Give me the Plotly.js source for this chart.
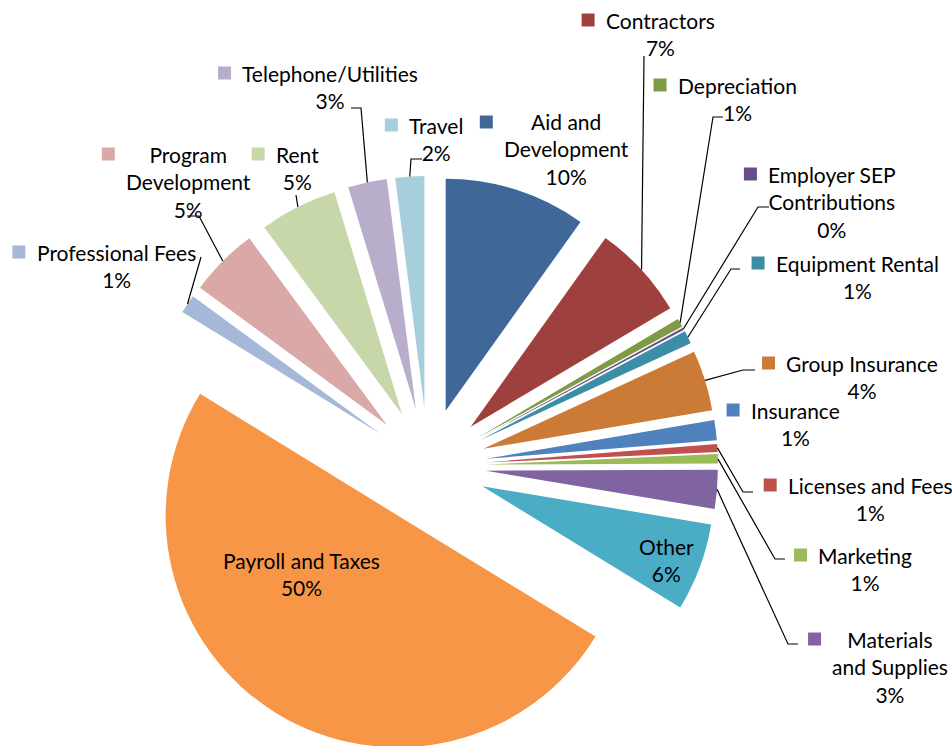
<!DOCTYPE html>
<html><head><meta charset="utf-8">
<script src="https://cdn.plot.ly/plotly-3.0.1.min.js"></script>
<style>html,body{margin:0;padding:0;overflow:hidden;background:#fff}#chart{width:952px;height:760px}</style>
</head><body><div id="chart"></div>
<script>
// ---- data ----
const categories = ["Aid and Development","Contractors","Depreciation","Employer SEP Contributions","Equipment Rental","Group Insurance","Insurance","Licenses and Fees","Marketing","Materials and Supplies","Other","Payroll and Taxes","Professional Fees","Program Development","Rent","Telephone/Utilities","Travel"];
const values = [9.86, 6.6, 0.6, 0.15, 0.9, 4.2, 1.4, 0.55, 0.65, 2.7, 6.1, 50.0, 1.3, 4.8, 5.4, 2.7, 2.0];
const displayLabels = ["Aid and<br>Development","Contractors","Depreciation","Employer SEP<br>Contributions","Equipment Rental","Group Insurance","Insurance","Licenses and Fees","Marketing","Materials<br>and Supplies","Other","Payroll and Taxes","Professional Fees","Program<br>Development","Rent","Telephone/Utilities","Travel"];
const insideLabels = ["Other","Payroll and Taxes"];

// ---- styles ----
const colors = ["#3F6899","#9E403D","#7F9B45","#664E86","#3A8FA6","#CC7B37","#4F81BD","#C0504D","#9BBB59","#8064A2","#4BACC6","#F79646","#A6B8D8","#D9A8A7","#C7D7AA","#B8AECC","#A6CEDC"];
const W = 952, H = 760;
const PULL = 0.25;
const pieCenterPx = [428, 466], pieBoxPx = 580;
const FONT = 21, LINE = 27.5;
const fontFamily = "Lato, 'Liberation Sans', sans-serif";
// label positions (px): center x of text, center y of first line
const labelAnchorPx = [[566,122],[660,20],[737,85],[832,174],[857,263],[862,363],[795,410],[870,485],[865,555],[890,639],[666,546],[301,560],[116,252],[188,154],[297,154],[330,73],[436,125]];
// leader lines (px): elbow point, optional tail point
const leaderPx = [null,[[644,56]],[[713,117],[723,117]],[[758,207],[769,207]],[[731,269],[740,269]],[[743,370],[755,370]],null,[[743,492],[753,492]],[[775,559],[785,559]],[[788,644],[798,644]],null,null,[[201,257]],[[199,216],[187,216]],[[296,195]],[[361,108],[351,108]],[[411,159],[422,159]]];

const X = x => x / W, Y = y => 1 - y / H;
const total = values.reduce((a,b)=>a+b,0);
const r = pieBoxPx / (2 * (1 + PULL));
const [cx, cy] = pieCenterPx;

const trace = {
  type: 'pie', labels: categories, values: values, sort: false, direction: 'clockwise', rotation: 0,
  pull: values.map(()=>PULL), marker: {colors: colors, line: {width: 0}},
  textinfo: 'none', hoverinfo: 'label+percent', showlegend: false,
  domain: {x: [X(cx - pieBoxPx/2), X(cx + pieBoxPx/2)], y: [Y(cy + pieBoxPx/2), Y(cy - pieBoxPx/2)]}
};

const canvas = document.createElement('canvas');
const ctx = canvas.getContext('2d');
ctx.font = FONT + "px Lato";

const annotations = [], shapes = [];
let cum = 0;
categories.forEach((cat, i) => {
  const v = values[i];
  const mid = (cum + v/2) / total * 2 * Math.PI;
  cum += v;
  const pct = Math.round(v / total * 100) + '%';
  const lines = displayLabels[i].split('<br>');
  const n = lines.length + 1;
  const [ax, ay] = labelAnchorPx[i];
  annotations.push({
    xref: 'paper', yref: 'paper', x: X(ax), y: Y(ay + (n-1)*LINE/2),
    xanchor: 'center', yanchor: 'middle', showarrow: false, align: 'center',
    text: displayLabels[i] + '<br>' + pct,
    font: {family: fontFamily, size: FONT, color: '#000'}
  });
  if (!insideLabels.includes(cat)) {
    const wmax = Math.max(...lines.map(l => ctx.measureText(l).width), ctx.measureText(pct).width);
    const left = ax - wmax/2;
    shapes.push({type: 'rect', xref: 'paper', yref: 'paper', x0: X(left - 24), x1: X(left - 11), y0: Y(ay + 6.5), y1: Y(ay - 6.5), fillcolor: colors[i], line: {width: 0}});
  }
  const lp = leaderPx[i];
  if (lp) {
    const pcx = cx + PULL * r * Math.sin(mid), pcy = cy - PULL * r * Math.cos(mid);
    const sx = pcx + r * Math.sin(mid), sy = pcy - r * Math.cos(mid);
    let path = 'M ' + X(sx) + ' ' + Y(sy);
    lp.forEach(p => { path += ' L ' + X(p[0]) + ' ' + Y(p[1]); });
    shapes.push({type: 'path', xref: 'paper', yref: 'paper', path: path, line: {color: '#000', width: 1.2}});
  }
});

const layout = {
  width: W, height: H, margin: {l:0, r:0, t:0, b:0},
  paper_bgcolor: '#fff', plot_bgcolor: '#fff', showlegend: false,
  annotations: annotations, shapes: shapes,
  font: {family: fontFamily}
};
Plotly.newPlot('chart', [trace], layout, {displayModeBar: false, staticPlot: true});
</script></body></html>
